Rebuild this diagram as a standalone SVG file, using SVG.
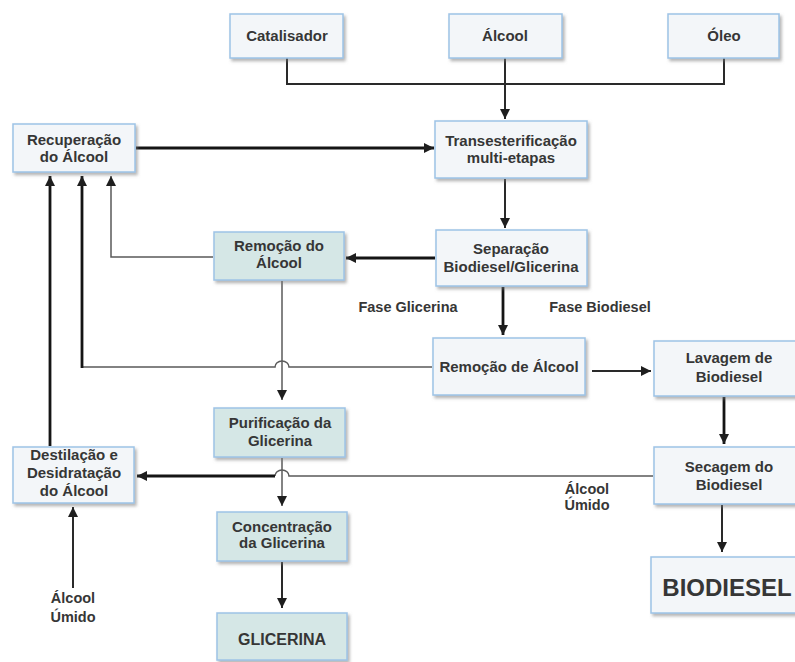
<svg xmlns="http://www.w3.org/2000/svg" width="795" height="662" viewBox="0 0 795 662">
<defs>
<filter id="sh" x="-10%" y="-10%" width="130%" height="140%">
<feDropShadow dx="2" dy="2.5" stdDeviation="1.5" flood-color="#7a7a7a" flood-opacity="0.55"/>
</filter>
<marker id="ah" viewBox="0 0 10 10" refX="10" refY="5" markerWidth="10" markerHeight="10" markerUnits="userSpaceOnUse" orient="auto">
<path d="M0,0 L10,5 L0,10 z" fill="#1e1e1e"/>
</marker>
</defs>
<style>
.b{fill:#f3f6f9;stroke:#9dc3e6;stroke-width:1.5;filter:url(#sh)}
.g{fill:#d5e7e6;stroke:#9dc3e6;stroke-width:1.5;filter:url(#sh)}
text{font-family:"Liberation Sans",Arial,sans-serif;font-weight:bold;font-size:15px;fill:#363636;text-anchor:middle}
.lbl{font-size:14.5px}
.thin{fill:none;stroke:#5a5a5a;stroke-width:1.5}
.med{fill:none;stroke:#2a2a2a;stroke-width:2}
.thk{fill:none;stroke:#151515;stroke-width:2.8}
</style>
<rect width="795" height="662" fill="#ffffff"/>
<g id="connectors">
<path class="med" d="M287,58 V84 H724 V58"/>
<path class="med" d="M505,58 V119" marker-end="url(#ah)"/>
<path class="thk" d="M136,148 H434" marker-end="url(#ah)"/>
<path class="med" d="M505,179 V228" marker-end="url(#ah)"/>
<path class="thk" d="M435,258 H346" marker-end="url(#ah)"/>
<path class="thin" d="M213,257 H111 V176" marker-end="url(#ah)"/>
<path class="thk" d="M503,287 V335" marker-end="url(#ah)"/>
<path class="thin" d="M432,367 H289 A7,6 0 0 0 275,367 H82"/>
<path class="thk" d="M82,368 V176" marker-end="url(#ah)"/>
<path class="thin" d="M282,281 V400" marker-end="url(#ah)"/>
<path class="med" d="M592,371 H651" marker-end="url(#ah)"/>
<path class="thk" d="M724,397 V444" marker-end="url(#ah)"/>
<path class="thin" d="M653,476 H289 A7,6 0 0 0 275,476"/>
<path class="thk" d="M275,476 H137" marker-end="url(#ah)"/>
<path class="thin" d="M282,458 V506" marker-end="url(#ah)"/>
<path class="thk" d="M50,446 V176" marker-end="url(#ah)"/>
<path class="med" d="M73,588 V507" marker-end="url(#ah)"/>
<path class="med" d="M282,562 V608" marker-end="url(#ah)"/>
<path class="med" d="M722,505 V552" marker-end="url(#ah)"/>
</g>
<g id="catalisador"><rect class="b" x="230" y="14" width="113" height="44"/><text x="287" y="41">Catalisador</text></g>
<g id="alcool"><rect class="b" x="449" y="14" width="113" height="44"/><text x="505" y="41">Álcool</text></g>
<g id="oleo"><rect class="b" x="668" y="14" width="111" height="44"/><text x="724" y="41">Óleo</text></g>
<g id="recuperacao"><rect class="b" x="13" y="124" width="122" height="48"/><text x="74" y="145">Recuperação</text><text x="74" y="162">do Álcool</text></g>
<g id="transesterificacao"><rect class="b" x="435" y="121" width="152" height="57"/><text x="511" y="146">Transesterificação</text><text x="511" y="163">multi-etapas</text></g>
<g id="separacao"><rect class="b" x="436" y="230" width="151" height="56"/><text x="511" y="254">Separação</text><text x="511" y="272">Biodiesel/Glicerina</text></g>
<g id="remocao-do-alcool"><rect class="g" x="214" y="232" width="130" height="48"/><text x="279" y="251">Remoção do</text><text x="279" y="268">Álcool</text></g>
<g id="fase-labels"><text class="lbl" x="408" y="312">Fase Glicerina</text><text class="lbl" x="600" y="312">Fase Biodiesel</text></g>
<g id="remocao-de-alcool"><rect class="b" x="433" y="338" width="152" height="57"/><text x="509" y="372">Remoção de Álcool</text></g>
<g id="lavagem"><rect class="b" x="654" y="341" width="150" height="55"/><text x="729" y="363">Lavagem de</text><text x="729" y="382">Biodiesel</text></g>
<g id="purificacao"><rect class="g" x="214" y="408" width="131" height="49"/><text x="280" y="428">Purificação da</text><text x="280" y="446">Glicerina</text></g>
<g id="destilacao"><rect class="b" x="13" y="447" width="121" height="56"/><text x="74" y="460">Destilação e</text><text x="74" y="478">Desidratação</text><text x="74" y="496">do Álcool</text></g>
<g id="secagem"><rect class="b" x="654" y="447" width="150" height="57"/><text x="729" y="472">Secagem do</text><text x="729" y="490">Biodiesel</text></g>
<g id="alcool-umido-right"><text class="lbl" x="587" y="494">Álcool</text><text class="lbl" x="587" y="510">Úmido</text></g>
<g id="concentracao"><rect class="g" x="217" y="512" width="130" height="49"/><text x="282" y="532">Concentração</text><text x="282" y="548">da Glicerina</text></g>
<g id="alcool-umido-left"><text class="lbl" x="73" y="603">Álcool</text><text class="lbl" x="73" y="622">Úmido</text></g>
<g id="glicerina"><rect class="g" x="217" y="613" width="130" height="47"/><text x="282" y="645" style="font-size:16px">GLICERINA</text></g>
<g id="biodiesel"><rect class="b" x="651" y="557" width="155" height="56"/><text x="727" y="596" style="font-size:24px">BIODIESEL</text></g>
</svg>
